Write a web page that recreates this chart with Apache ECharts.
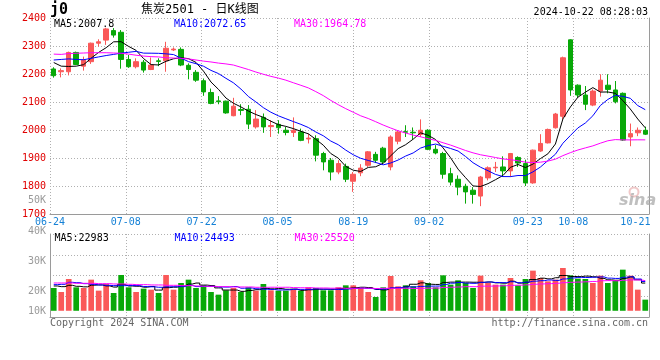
<!DOCTYPE html>
<html><head><meta charset="utf-8">
<script src="https://cdn.jsdelivr.net/npm/echarts@6/dist/echarts.min.js"></script>
<style>html,body{margin:0;padding:0;background:#fff}#c{width:660px;height:360px}</style>
</head><body><div id="c"></div>
<script>
const dates = ['06-24','06-25','06-26','06-27','06-28','07-01','07-02','07-03','07-04','07-05',
'07-08','07-09','07-10','07-11','07-12','07-15','07-16','07-17','07-18','07-19',
'07-22','07-23','07-24','07-25','07-26','07-29','07-30','07-31','08-01','08-02',
'08-05','08-06','08-07','08-08','08-09','08-12','08-13','08-14','08-15','08-16',
'08-19','08-20','08-21','08-22','08-23','08-26','08-27','08-28','08-29','08-30',
'09-02','09-03','09-04','09-05','09-06','09-09','09-10','09-11','09-12','09-13',
'09-18','09-19','09-20','09-23','09-24','09-25','09-26','09-27','09-30','10-08',
'10-09','10-10','10-11','10-14','10-15','10-16','10-17','10-18','10-21','10-22'];
const opens = [2218,2208,2208,2277,2228,2244,2310,2321,2355,2349,2252,2226,2242,2216,2247,2247,2286,2288,2231,2206,
2176,2134,2104,2103,2051,2073,2074,2011,2045,2012,2020,1999,1991,1993,1968,1969,1916,1892,1850,1870,
1817,1847,1874,1913,1935,1868,1960,1994,1992,1984,1999,1931,1916,1844,1824,1799,1785,1764,1829,1865,
1868,1854,1902,1880,1811,1925,1954,2008,2049,2322,2160,2125,2089,2139,2160,2143,2131,1975,1990,1999];
const closes = [2194,2212,2277,2234,2250,2310,2315,2361,2339,2252,2226,2244,2214,2232,2245,2292,2289,2232,2216,2178,
2136,2095,2101,2061,2085,2070,2021,2039,2011,2016,2008,1991,1999,1963,1971,1910,1886,1850,1880,1824,
1842,1864,1922,1892,1886,1975,1993,1992,1990,1999,1931,1918,1842,1814,1796,1779,1770,1832,1865,1867,
1854,1916,1882,1811,1928,1952,2002,2057,2258,2143,2125,2092,2139,2178,2145,2101,1964,1987,1999,1985];
const lows = [2187,2188,2195,2232,2212,2236,2298,2304,2330,2219,2222,2220,2205,2214,2228,2208,2282,2228,2181,2172,
2122,2092,2092,2058,2049,2053,2003,2005,1990,1975,1987,1981,1975,1960,1952,1888,1856,1820,1842,1814,
1779,1835,1868,1882,1882,1856,1949,1975,1967,1975,1928,1913,1826,1802,1767,1737,1737,1728,1820,1850,
1832,1832,1868,1800,1808,1922,1952,2005,2038,2122,2115,2071,2085,2119,2131,2095,1961,1942,1978,1982];
const highs = [2224,2220,2280,2280,2262,2312,2324,2365,2364,2357,2268,2256,2250,2259,2256,2315,2295,2295,2238,2214,
2184,2148,2121,2105,2115,2092,2089,2071,2059,2035,2035,2011,2045,2005,1987,1981,1922,1900,1892,1880,
1850,1878,1925,1922,1940,1981,1999,2017,2009,2038,2003,1946,1922,1865,1838,1808,1796,1836,1870,1886,
1906,1918,1906,1894,1930,1985,2005,2061,2262,2324,2163,2157,2145,2199,2199,2175,2134,2023,2009,2012];
const ma5 = [2241,2228,2227,2228,2233.4,2256.6,2277.2,2294,2315,2315.4,2298.6,2284.4,2255,2233.6,2232.2,2245.4,2254.4,2258,2254.8,2241.4,
2210.2,2171.4,2145.2,2114.2,2095.6,2082.4,2067.6,2055.2,2045.2,2031.4,2019,2013,2005,1995.4,1986.4,1966.8,1945.8,1916,1899.4,1870,
1856.4,1852,1866.4,1868.8,1881.2,1907.8,1933.6,1947.6,1967.2,1989.8,1981,1966,1936,1900.8,1860.2,1829.8,1800.2,1798.2,1808.4,1822.6,
1837.6,1866.8,1876.8,1866,1878.2,1897.8,1915,1950,2039.4,2082.4,2117,2135,2151.4,2135.4,2135.8,2131,2105.4,2075,2039.2,2007.8];
const ma10 = [2250,2252,2254,2252,2251,2256,2261,2266,2270,2274.4,2277.6,2280.8,2274.5,2274.3,2273.8,2272,2269.4,2256.5,2244.2,2236.8,
2227.8,2212.9,2201.6,2184.5,2168.5,2146.3,2119.5,2100.2,2079.7,2063.5,2050.7,2040.3,2030.1,2020.3,2008.9,1992.9,1979.4,1960.5,1947.4,1928.2,
1911.6,1898.9,1891.2,1884.1,1875.6,1882.1,1892.8,1907,1918,1935.5,1944.4,1949.8,1941.8,1934,1925,1905.4,1883.1,1867.1,1854.6,1841.4,
1833.7,1833.5,1837.5,1837.2,1850.4,1867.7,1890.9,1913.4,1952.7,1980.3,2007.4,2025,2050.7,2087.4,2109.1,2124,2120.2,2113.2,2087.3,2072.65];
const ma30 = [2271,2270,2273,2274,2275,2276,2276,2276,2275,2274,2271,2267,2264,2262,2261,2258,2257,2256,2254,2250,
2246,2243,2239,2236,2232,2224,2216,2207,2199,2191.6,2185.4,2178,2168.7,2159.7,2150.4,2137.1,2122.8,2105.7,2090.4,2076.2,
2063.4,2050.7,2041,2029.6,2017.7,2007.1,1997.2,1989.2,1981.7,1975.7,1968.9,1963,1954.4,1946.1,1936.5,1926.8,1918.4,1911.5,1906.7,1901.7,
1896.6,1894.1,1890.2,1885.1,1883.7,1885.1,1888.9,1895.8,1908.4,1919.1,1928.5,1936.1,1943.3,1952.9,1961.5,1965.7,1964.7,1964.6,1964.9,1964.78];
const volumes = [20980,19060,25320,21300,20980,25000,19700,22910,18580,27250,21300,19060,20660,20180,18580,27250,20180,23390,25000,20980,
22270,19060,17770,19860,20980,19060,21300,19700,22910,19860,19700,19700,20180,19700,21300,20980,19860,19860,21300,22270,
22270,20980,19060,16650,21300,26770,21790,22270,21790,24680,23390,21300,27090,22590,24680,23390,20980,26930,23390,22590,
22590,25800,22270,25320,29340,25800,24200,25000,30620,27090,25480,25320,23390,26930,23390,24520,29820,26930,20180,15360];
const volMa5 = [21950,21630,22270,21790,21530,22330,22460,21980,21430,22690,21950,21820,21370,21690,19960,21150,21370,21920,22880,23360,
22370,22140,21020,19990,19990,19350,19800,20180,20790,20570,20700,20370,20470,19830,20120,20370,20410,20340,20660,20860,
21110,21340,21180,20250,20050,20950,21110,21760,22780,23460,22780,22690,23650,23810,23810,23810,23750,23710,23880,23460,
23300,24260,23330,23710,25060,25710,25380,25930,26990,26540,26480,26700,26380,25640,24900,24710,25610,26320,24970,23360];
const volMa10 = [22590,22750,23710,23550,23070,22750,22430,22270,22110,22110,22140,22140,21680,21560,21320,21550,21590,21640,22290,21660,
21760,21760,21470,21430,21680,20860,20970,20600,20390,20280,20020,20090,20330,20310,20340,20530,20390,20410,20250,20490,
20740,20870,20760,20450,20450,21030,21230,21470,21510,21760,21870,21900,22700,23300,23630,23300,23220,23680,23840,23630,
23550,24000,23520,23790,24260,24500,24820,24630,25350,25800,26090,26040,26160,26320,25720,25590,26160,26350,25300,24130];
const volMa30 = [23390,23390,23390,23230,23230,23230,23070,23070,22910,22910,22750,22590,22590,22430,22430,22270,22270,22110,22110,21950,
21790,21790,21630,21630,21470,21470,21470,21310,21310,21350,21310,21330,21160,21100,21110,20980,20980,20880,20970,20810,
20840,20900,20850,20730,20820,20810,20860,20820,20720,20840,20880,20950,21260,21350,21480,21620,21610,21850,21870,21960,
22060,22260,22330,22510,22780,22940,23090,23260,23570,23730,23840,23980,24130,24470,24540,24460,24730,24890,24830,24520];
const xLabelDates = ['06-24','07-08','07-22','08-05','08-19','09-02','09-23','10-08','10-21'];
const xGridDates = ['06-24','07-08','07-22','08-05','08-19','09-02','09-23','10-08'];
const volTickLabels = ['50K','40K','30K','20K','10K'];
const priceLegend = ['MA5:2007.8','MA10:2072.65','MA30:1964.78'];
const volLegend = ['MA5:22983','MA10:24493','MA30:25520'];

const UP = '#fa5858', DOWN = '#08a808';
const GRIDC = '#b0b0b0', BORDER = '#9a9a9a';
const MONO = '"DejaVu Sans Mono", "Liberation Mono", monospace';
const VOL_BASE = 10000;
const lineColors = ['#000000', '#0000ff', '#ff00ff'];

const labelIdx = xLabelDates.map(d => dates.indexOf(d));
const gridIdx = xGridDates.map(d => dates.indexOf(d));
const lastIdx = dates.length - 1;
const dotted = { color: GRIDC, width: 1, type: [1, 2] };

const chart = echarts.init(document.getElementById('c'), null, { renderer: 'canvas' });

const grids = [
  { left: 50, right: 11, top: 18, height: 196 },
  { left: 50, right: 11, top: 234, height: 83 }
];

function valueX(gi, withLabels) {
  return {
    type: 'value', gridIndex: gi, min: 0, max: lastIdx, position: 'bottom',
    axisLine: { show: false },
    axisTick: { show: false, customValues: gridIdx },
    splitLine: { show: true, lineStyle: dotted },
    axisLabel: withLabels ? {
      show: true, customValues: labelIdx, margin: 3,
      color: '#1581d6', fontFamily: MONO, fontSize: 10,
      formatter: (v) => {
        const i = Math.round(v);
        return i === labelIdx[labelIdx.length - 1] ? '{e|' + dates[i] + '}' : dates[i];
      },
      rich: { e: { padding: [0, 12, 0, 0], color: '#1581d6', fontFamily: MONO, fontSize: 10 } }
    } : { show: false }
  };
}
function catX(gi) {
  return {
    type: 'category', gridIndex: gi, data: dates, boundaryGap: true, position: 'bottom',
    axisLine: { show: true, lineStyle: { color: BORDER, width: 1 } },
    axisTick: { show: false }, axisLabel: { show: false }, splitLine: { show: false }
  };
}

const texts = [];
function txt(text, x, y, color, font, align) {
  texts.push({ type: 'text', silent: true, z: 100, x: x, y: y,
    style: { text: text, fill: color, font: font, align: align || 'left', verticalAlign: 'middle',
             textAlign: align || 'left', textVerticalAlign: 'middle' } });
}
txt('j0', 50, 10.5, '#000', 'bold 15px ' + MONO);
txt('焦炭2501 - 日K线图', 141, 9.5, '#000', '12px "DejaVu Sans Mono", "Noto Sans CJK SC"');
txt('2024-10-22 08:28:03', 648, 12, '#000', '10px ' + MONO, 'right');
const legX = [54, 174, 294];
priceLegend.forEach((t, k) => txt(t, legX[k], 24, lineColors[k], '10px ' + MONO));
volLegend.forEach((t, k) => txt(t, legX[k] + 0.5, 238.5, lineColors[k], '10px ' + MONO));
const volLabelY = [200, 231, 261, 291, 311];
volTickLabels.forEach((t, k) => txt(t, 46, volLabelY[k], '#9a9a9a', '10px ' + MONO, 'right'));
txt('Copyright 2024 SINA.COM', 50, 323.5, '#666', '10px ' + MONO);
txt('http://finance.sina.com.cn', 648, 323.5, '#666', '10px ' + MONO, 'right');
texts.push({ type: 'circle', silent: true, z: 1, shape: { cx: 634, cy: 192, r: 4.5 },
  style: { fill: 'none', stroke: '#f0c8c8', lineWidth: 2 } });
txt('sina', 619, 201, 'rgba(170,170,170,0.75)', 'italic bold 16px "DejaVu Sans", sans-serif');

const option = {
  animation: false,
  backgroundColor: '#fff',
  grid: grids,
  xAxis: [catX(0), valueX(0, true), catX(1), valueX(1, false)],
  yAxis: [
    { type: 'value', gridIndex: 0, min: 1700, max: 2400, interval: 100, position: 'left',
      axisLine: { show: false }, axisTick: { show: false },
      splitLine: { show: true, lineStyle: dotted },
      axisLabel: { color: '#e00000', fontFamily: MONO, fontSize: 10, margin: 4, formatter: (v) => String(v) } },
    { type: 'value', gridIndex: 0, min: 1700, max: 2400, position: 'right',
      axisLine: { show: true, lineStyle: { color: BORDER, width: 1 } }, axisTick: { show: false },
      axisLabel: { show: false }, splitLine: { show: false } },
    { type: 'value', gridIndex: 1, min: 7000, max: 47000, position: 'left',
      axisLine: { show: true, lineStyle: { color: BORDER, width: 1 } },
      axisTick: { show: false, customValues: [17000, 27000, 37000, 47000] },
      splitLine: { show: true, lineStyle: dotted },
      axisLabel: { show: false } },
    { type: 'value', gridIndex: 1, min: 7000, max: 47000, position: 'right',
      axisLine: { show: true, lineStyle: { color: BORDER, width: 1 } }, axisTick: { show: false },
      axisLabel: { show: false }, splitLine: { show: false } }
  ],
  graphic: texts,
  series: [
    { type: 'candlestick', xAxisIndex: 0, yAxisIndex: 0, barWidth: 5,
      data: dates.map((_, i) => [opens[i], closes[i], lows[i], highs[i]]),
      itemStyle: { color: UP, color0: DOWN, borderColor: UP, borderColor0: DOWN, borderWidth: 1 } },
    { type: 'line', xAxisIndex: 0, yAxisIndex: 0, data: ma5, symbol: 'none', z: 5,
      lineStyle: { color: lineColors[0], width: 1 } },
    { type: 'line', xAxisIndex: 0, yAxisIndex: 0, data: ma10, symbol: 'none', z: 5,
      lineStyle: { color: lineColors[1], width: 1 } },
    { type: 'line', xAxisIndex: 0, yAxisIndex: 0, data: ma30, symbol: 'none', z: 5,
      lineStyle: { color: lineColors[2], width: 1 } },
    { type: 'custom', xAxisIndex: 2, yAxisIndex: 2,
      data: volumes.map((v, i) => [i, v, closes[i] >= opens[i] ? 1 : 0]),
      encode: { x: 0, y: 1 },
      renderItem: (params, api) => {
        const i = api.value(0);
        const top = api.coord([i, api.value(1)]);
        const base = api.coord([i, VOL_BASE]);
        const w = api.size([1, 0])[0] * 0.76;
        return { type: 'rect', shape: { x: top[0] - w / 2, y: top[1], width: w, height: base[1] - top[1] },
                 style: { fill: api.value(2) ? UP : DOWN } };
      } },
    { type: 'line', xAxisIndex: 2, yAxisIndex: 2, data: volMa5, symbol: 'none', step: 'middle', z: 5,
      lineStyle: { color: lineColors[0], width: 1 } },
    { type: 'line', xAxisIndex: 2, yAxisIndex: 2, data: volMa10, symbol: 'none', step: 'middle', z: 5,
      lineStyle: { color: lineColors[1], width: 1 } },
    { type: 'line', xAxisIndex: 2, yAxisIndex: 2, data: volMa30, symbol: 'none', step: 'middle', z: 5,
      lineStyle: { color: lineColors[2], width: 1 } }
  ]
};
chart.setOption(option);
</script></body></html>
